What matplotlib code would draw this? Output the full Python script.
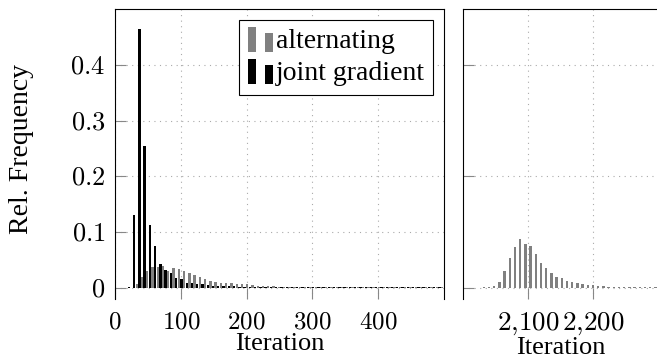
import numpy as np
import matplotlib
matplotlib.use("Agg")
import matplotlib.pyplot as plt
from matplotlib.legend_handler import HandlerBase
from matplotlib.patches import Rectangle, Patch

plt.rcParams['mathtext.fontset'] = 'cm'
plt.rcParams['font.family'] = 'Liberation Serif'

# histogram bins (bin centres, step 8 iterations)
left_iters = np.arange(23, 500, 8)
joint_left = [0.001, 0.131, 0.465, 0.255, 0.112, 0.075, 0.042, 0.032, 0.026, 0.018,
              0.015, 0.009, 0.0095, 0.007, 0.007, 0.005, 0.004, 0.004, 0.0035, 0.003,
              0.003, 0.002, 0.002, 0.002, 0.0015, 0.0015, 0.001, 0.001, 0.001, 0.001,
              0.001, 0.001, 0.001, 0.001, 0.001, 0.001, 0.001, 0.001, 0.001, 0.001,
              0.001, 0.001, 0.001, 0.001, 0.001, 0.001, 0.001, 0.001, 0.001, 0.001,
              0.001, 0.001, 0.001, 0.001, 0.001, 0.001, 0.001, 0.001, 0.001, 0.001]
alt_left = [0.0005, 0.007, 0.020, 0.030, 0.038, 0.038, 0.039, 0.031, 0.035, 0.033,
            0.030, 0.027, 0.023, 0.019, 0.015, 0.013, 0.011, 0.009, 0.0085, 0.008,
            0.007, 0.007, 0.006, 0.005, 0.004, 0.003, 0.003, 0.0025, 0.002, 0.002,
            0.002, 0.002, 0.002, 0.002, 0.0018, 0.0018, 0.0018, 0.0015, 0.0015, 0.0015,
            0.0015, 0.0015, 0.0012, 0.0012, 0.0012, 0.0012, 0.0012, 0.001, 0.001, 0.001,
            0.001, 0.001, 0.001, 0.001, 0.001, 0.001, 0.001, 0.001, 0.001, 0.001]

right_iters = np.arange(2008, 2300, 8)
alt_right = [0.0005, 0.0005, 0.0005, 0.001, 0.001, 0.004, 0.011, 0.030, 0.053, 0.073,
             0.087, 0.078, 0.075, 0.060, 0.045, 0.035, 0.027, 0.020, 0.017, 0.013,
             0.010, 0.008, 0.0065, 0.005, 0.005, 0.004, 0.003, 0.002, 0.002, 0.0015,
             0.0015, 0.001, 0.001, 0.001, 0.001, 0.0008, 0.0008]

grau = '#808080'
bw = 3.6
fs = 20

W, H = 657, 363
fig = plt.figure(figsize=(W / 100, H / 100), dpi=100)
ax1 = fig.add_axes([115 / W, (H - 299) / H, 329 / W, 290 / H])
ax2 = fig.add_axes([463 / W, (H - 299) / H, 195 / W, 290 / H])

ax1.bar(left_iters + 2, alt_left, width=bw, color=grau, label='alternating', zorder=2)
ax1.bar(left_iters - 2, joint_left, width=bw, color='black', label='joint gradient', zorder=3)
ax2.bar(right_iters, alt_right, width=bw, color=grau, zorder=2)

for ax in (ax1, ax2):
    ax.set_ylim(-0.02, 0.5)
    ax.spines['bottom'].set_visible(False)
    ax.spines['right'].set_linewidth(0.8)
    ax.spines['left'].set_linewidth(0.8)
    ax.spines['top'].set_linewidth(0.8)
    ax.grid(True, linestyle=(0, (1, 4)), color='#aaaaaa', linewidth=0.8)
    ax.set_axisbelow(True)
    ax.tick_params(direction='in', length=8, color='#888888', width=0.8,
                   top=False, right=False)
    ax.tick_params(axis='x', labelsize=18, pad=9)
    ax.tick_params(axis='y', labelsize=19, pad=7)
    ax.set_xlabel('Iteration', fontsize=19, labelpad=0)

ax1.set_xlim(0, 500)
ax1.set_xticks([0, 100, 200, 300, 400])
ax1.set_xticklabels(['$0$', '$100$', '$200$', '$300$', '$400$'])
ax1.set_yticks([0, 0.1, 0.2, 0.3, 0.4])
ax1.set_yticklabels(['$0$', '$0.1$', '$0.2$', '$0.3$', '$0.4$'])
ax1.set_ylabel('Rel. Frequency', fontsize=fs)
ax1.yaxis.set_label_coords(-0.245, 0.517)

ax2.set_xlim(2000, 2300)
ax2.set_xticks([2100, 2200])
ax2.set_xticklabels(['$2{,}100$', '$2{,}200$'])
ax2.tick_params(axis='x', labelsize=19.5, pad=8)
ax2.set_yticks([0, 0.2, 0.4])
ax2.set_yticklabels([])
ax2.spines['right'].set_visible(False)


class TwoBars(HandlerBase):
    def create_artists(self, legend, orig_handle, xdescent, ydescent, width, height, fontsize, trans):
        c = orig_handle.get_facecolor()
        w = width * 0.33
        r1 = Rectangle((-xdescent, -ydescent - 3), w, height * 1.3, fc=c, ec='none', transform=trans)
        r2 = Rectangle((-xdescent + width * 0.67, -ydescent - 3), w, height * 1.0, fc=c, ec='none', transform=trans)
        return [r1, r2]


h_alt = Patch(color=grau)
h_joint = Patch(color='black')
leg = ax1.legend([h_alt, h_joint], ['alternating', 'joint gradient'],
                 handler_map={Patch: TwoBars()}, loc='upper right', fontsize=fs,
                 fancybox=False, framealpha=1, edgecolor='black', handlelength=0.9,
                 handletextpad=0.1, borderpad=0.3, labelspacing=0.25,
                 borderaxespad=0.4)
leg.get_frame().set_linewidth(0.8)

fig.savefig('out.png', dpi=100)
